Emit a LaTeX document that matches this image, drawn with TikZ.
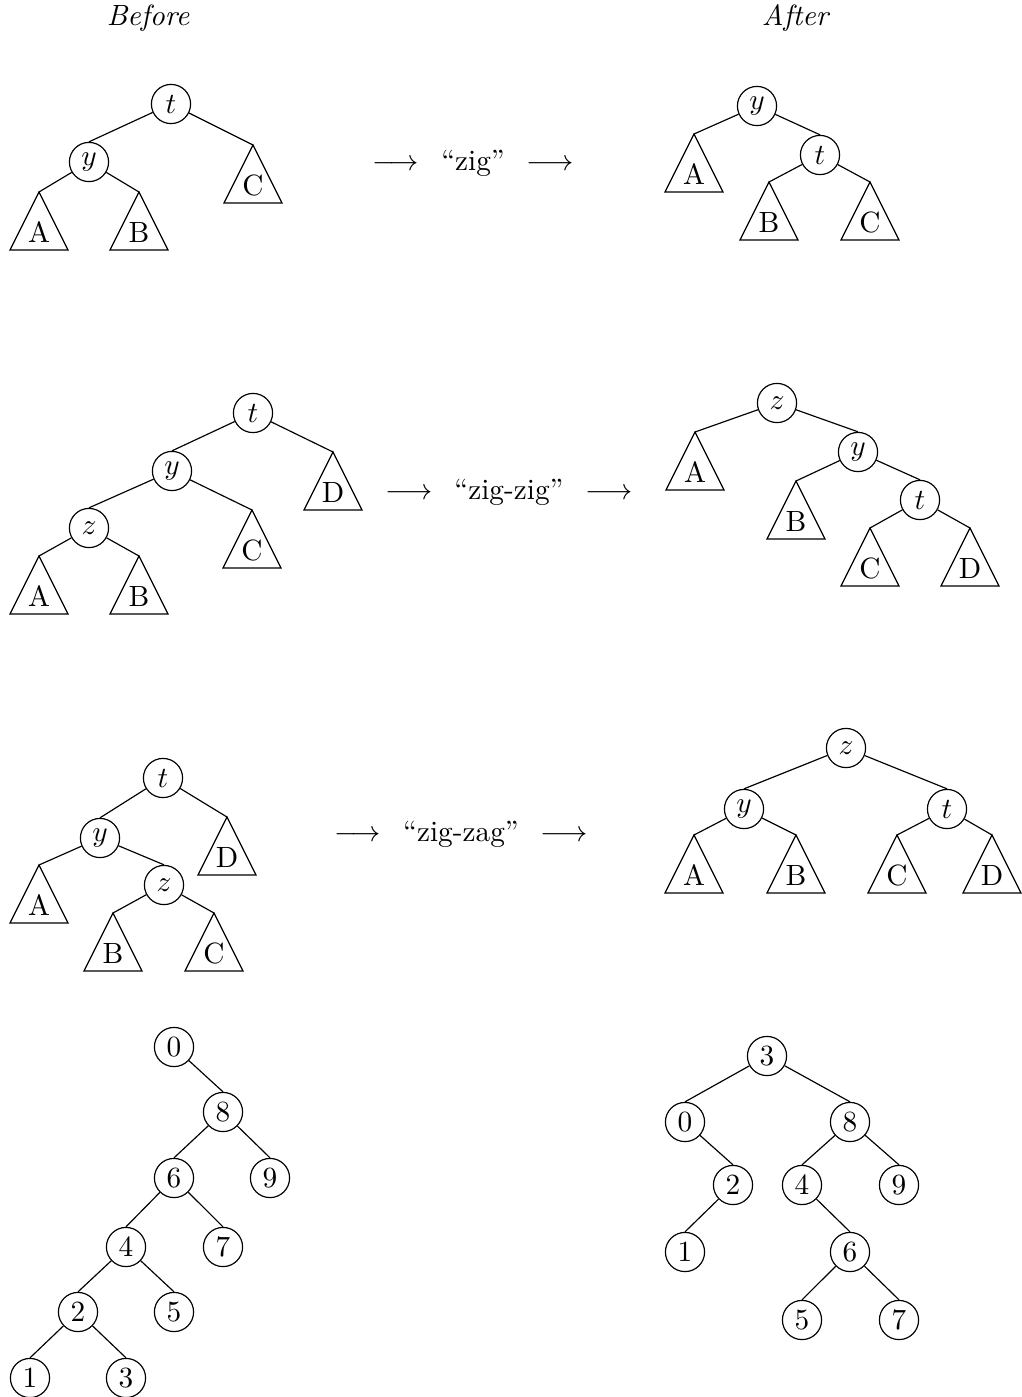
\documentclass[tikz,border=0pt]{standalone}
\usepackage{tikz}
\usetikzlibrary{calc}

% a subtree drawn as a triangle hanging from its apex
\newcommand{\subtree}[3]{%
  \coordinate (#1) at (#2);
  \draw (#1) -- ++(-29,58) -- ++(58,0) -- cycle;
  \node (#1lbl) at ($(#1)+(0,40)$) {#3};
}
\newcommand{\opgap}{\hspace{0.75em}}

\begin{document}
\begin{tikzpicture}[
    x=0.012cm, y=-0.012cm,
    vert/.style={draw, circle, minimum size=0.47cm, inner sep=0pt},
    oplabel/.style={font=\normalsize}
]
    \useasboundingbox (0,0) rectangle (1021,1397);

    % headings
    \node[font=\itshape] (before) at (148,18) {Before};
    \node[font=\itshape] (after) at (795,18) {After};

    % zig, before
    \node[vert] (t1) at (171,104) {$t$};
    \node[vert] (y1) at (89,162) {$y$};
    \subtree{a1}{39,192}{A}
    \subtree{b1}{139,192}{B}
    \subtree{c1}{253,145}{C}
    \draw (t1) -- (y1.north);
    \draw (t1) -- (c1);
    \draw (y1) -- (a1);
    \draw (y1) -- (b1);

    \node[oplabel] (op1) at (473,163) {$\longrightarrow$\opgap``zig''\opgap$\longrightarrow$};

    % zig, after
    \node[vert] (y1r) at (757,106) {$y$};
    \node[vert] (t1r) at (820,155) {$t$};
    \subtree{a1r}{694,134}{A}
    \subtree{b1r}{769,182}{B}
    \subtree{c1r}{870,182}{C}
    \draw (y1r) -- (a1r);
    \draw (y1r) -- (t1r.north);
    \draw (t1r) -- (b1r);
    \draw (t1r) -- (c1r);

    % zig-zig, before
    \node[vert] (t2) at (253,413) {$t$};
    \node[vert] (y2) at (172,471) {$y$};
    \node[vert] (z2) at (89,528) {$z$};
    \subtree{d2}{333,452}{D}
    \subtree{c2}{252,510}{C}
    \subtree{a2}{39,556}{A}
    \subtree{b2}{139,556}{B}
    \draw (t2) -- (y2.north);
    \draw (t2) -- (d2);
    \draw (y2) -- (z2.north);
    \draw (y2) -- (c2);
    \draw (z2) -- (a2);
    \draw (z2) -- (b2);

    \node[oplabel] (op2) at (509,492) {$\longrightarrow$\opgap``zig-zig''\opgap$\longrightarrow$};

    % zig-zig, after
    \node[vert] (z2r) at (777,403) {$z$};
    \node[vert] (y2r) at (858,452) {$y$};
    \node[vert] (t2r) at (920,500) {$t$};
    \subtree{a2r}{695,432}{A}
    \subtree{b2r}{796,481}{B}
    \subtree{c2r}{870,528}{C}
    \subtree{d2r}{970,528}{D}
    \draw (z2r) -- (a2r);
    \draw (z2r) -- (y2r.north);
    \draw (y2r) -- (b2r);
    \draw (y2r) -- (t2r.north);
    \draw (t2r) -- (c2r);
    \draw (t2r) -- (d2r);

    % zig-zag, before
    \node[vert] (t3) at (163,778) {$t$};
    \node[vert] (y3) at (100,838) {$y$};
    \node[vert] (z3) at (164,885) {$z$};
    \subtree{d3}{227,817}{D}
    \subtree{a3}{39,865}{A}
    \subtree{b3}{113,913}{B}
    \subtree{c3}{214,913}{C}
    \draw (t3) -- (y3.north);
    \draw (t3) -- (d3);
    \draw (y3) -- (a3);
    \draw (y3) -- (z3.north);
    \draw (z3) -- (b3);
    \draw (z3) -- (c3);

    \node[oplabel] (op3) at (461,834) {$\longrightarrow$\opgap``zig-zag''\opgap$\longrightarrow$};

    % zig-zag, after
    \node[vert] (z3r) at (846,748) {$z$};
    \node[vert] (y3r) at (744,809) {$y$};
    \node[vert] (t3r) at (947,809) {$t$};
    \subtree{a3r}{694,835}{A}
    \subtree{b3r}{796,835}{B}
    \subtree{c3r}{897,835}{C}
    \subtree{d3r}{992,835}{D}
    \draw (z3r) -- (y3r.north);
    \draw (z3r) -- (t3r.north);
    \draw (y3r) -- (a3r);
    \draw (y3r) -- (b3r);
    \draw (t3r) -- (c3r);
    \draw (t3r) -- (d3r);

    % example tree, before
    \node[vert] (n0) at (174,1047) {0};
    \node[vert] (n8) at (223,1112) {8};
    \node[vert] (n6) at (174,1178) {6};
    \node[vert] (n9) at (270,1178) {9};
    \node[vert] (n4) at (126,1247) {4};
    \node[vert] (n7) at (223,1247) {7};
    \node[vert] (n2) at (78,1312) {2};
    \node[vert] (n5) at (174,1312) {5};
    \node[vert] (n1) at (30,1378) {1};
    \node[vert] (n3) at (126,1378) {3};
    \draw (n0) -- (n8.north);
    \draw (n8) -- (n6.north);
    \draw (n8) -- (n9.north);
    \draw (n6) -- (n4.north);
    \draw (n6) -- (n7.north);
    \draw (n4) -- (n2.north);
    \draw (n4) -- (n5.north);
    \draw (n2) -- (n1.north);
    \draw (n2) -- (n3.north);

    % example tree, after
    \node[vert] (m3) at (767,1056) {3};
    \node[vert] (m0) at (685,1122) {0};
    \node[vert] (m8) at (850,1122) {8};
    \node[vert] (m2) at (733,1185) {2};
    \node[vert] (m4) at (802,1185) {4};
    \node[vert] (m9) at (899,1185) {9};
    \node[vert] (m1) at (685,1252) {1};
    \node[vert] (m6) at (850,1252) {6};
    \node[vert] (m5) at (802,1320) {5};
    \node[vert] (m7) at (899,1320) {7};
    \draw (m3) -- (m0.north);
    \draw (m3) -- (m8.north);
    \draw (m0) -- (m2.north);
    \draw (m2) -- (m1.north);
    \draw (m8) -- (m4.north);
    \draw (m8) -- (m9.north);
    \draw (m4) -- (m6.north);
    \draw (m6) -- (m5.north);
    \draw (m6) -- (m7.north);
\end{tikzpicture}
\end{document}
